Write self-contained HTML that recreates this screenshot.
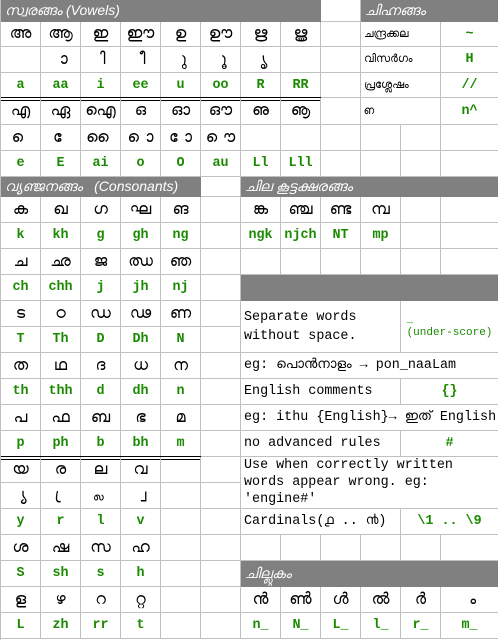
<!DOCTYPE html>
<html><head><meta charset="utf-8"><style>
body{margin:0;background:#fff;width:498px;height:640px;overflow:hidden}
#w{position:relative;width:498px;height:640px;border-left:1px solid #c0c0c0;box-sizing:border-box}
#w div{position:absolute;box-sizing:border-box;border-right:1px solid #c0c0c0;border-bottom:1px solid #c0c0c0;display:flex;align-items:center;justify-content:center;font-family:"Liberation Sans","DejaVu Sans",sans-serif;font-size:16px;color:#000;white-space:nowrap;overflow:hidden}
#w div.g{font-family:"Liberation Mono",monospace;font-size:13.4px;font-weight:bold;color:#1a8a00}
#w div.h{background:#808080;color:#fff;font-style:italic;font-size:14px;justify-content:flex-start;padding-left:4px;border-color:#808080}
#w div.t{font-family:"Liberation Mono",monospace;font-size:13.4px;justify-content:flex-start;padding-left:3px;line-height:19px;white-space:normal}
#w div.s{font-size:11px;justify-content:flex-start;padding-left:3px}
#w div.dl{border:none;border-top:1px solid #000;border-bottom:1px solid #000;height:4px}
</style></head><body><div id="w">
<div class="h" style="left:0;top:0;width:320px;height:22px">സ്വരങ്ങം&nbsp;(Vowels)</div>
<div style="left:320px;top:0;width:40px;height:22px"></div>
<div class="h" style="left:360px;top:0;width:138px;height:22px">ചിഹ്നങ്ങം</div>
<div style="left:0;top:22px;width:40px;height:25px">അ</div><div style="left:40px;top:22px;width:40px;height:25px">ആ</div><div style="left:80px;top:22px;width:40px;height:25px">ഇ</div><div style="left:120px;top:22px;width:40px;height:25px">ഈ</div><div style="left:160px;top:22px;width:40px;height:25px">ഉ</div><div style="left:200px;top:22px;width:40px;height:25px">ഊ</div><div style="left:240px;top:22px;width:40px;height:25px">ഋ</div><div style="left:280px;top:22px;width:40px;height:25px">ൠ</div><div style="left:320px;top:22px;width:40px;height:25px"></div>
<div class="s" style="left:360px;top:22px;width:80px;height:25px">ചന്ദ്രക്കല</div><div class="g" style="left:440px;top:22px;width:58px;height:25px">~</div>
<div style="left:0;top:47px;width:40px;height:26px"></div><div style="left:40px;top:47px;width:40px;height:26px">&nbsp;ാ</div><div style="left:80px;top:47px;width:40px;height:26px">&nbsp;ി</div><div style="left:120px;top:47px;width:40px;height:26px">&nbsp;ീ</div><div style="left:160px;top:47px;width:40px;height:26px">&nbsp;ു</div><div style="left:200px;top:47px;width:40px;height:26px">&nbsp;ൂ</div><div style="left:240px;top:47px;width:40px;height:26px">&nbsp;ൃ</div><div style="left:280px;top:47px;width:40px;height:26px"></div><div style="left:320px;top:47px;width:40px;height:26px"></div>
<div class="s" style="left:360px;top:47px;width:80px;height:26px">വിസർഗം</div><div class="g" style="left:440px;top:47px;width:58px;height:26px">H</div>
<div class="g" style="left:0;top:73px;width:40px;height:25px">a</div><div class="g" style="left:40px;top:73px;width:40px;height:25px">aa</div><div class="g" style="left:80px;top:73px;width:40px;height:25px">i</div><div class="g" style="left:120px;top:73px;width:40px;height:25px">ee</div><div class="g" style="left:160px;top:73px;width:40px;height:25px">u</div><div class="g" style="left:200px;top:73px;width:40px;height:25px">oo</div><div class="g" style="left:240px;top:73px;width:40px;height:25px">R</div><div class="g" style="left:280px;top:73px;width:40px;height:25px">RR</div><div style="left:320px;top:73px;width:40px;height:25px"></div>
<div class="s" style="left:360px;top:73px;width:80px;height:25px">പ്രശ്ലേഷം</div><div class="g" style="left:440px;top:73px;width:58px;height:25px">//</div>
<div class="dl" style="left:0;top:97px;width:320px"></div>
<div style="left:0;top:98px;width:40px;height:27px">എ</div><div style="left:40px;top:98px;width:40px;height:27px">ഏ</div><div style="left:80px;top:98px;width:40px;height:27px">ഐ</div><div style="left:120px;top:98px;width:40px;height:27px">ഒ</div><div style="left:160px;top:98px;width:40px;height:27px">ഓ</div><div style="left:200px;top:98px;width:40px;height:27px">ഔ</div><div style="left:240px;top:98px;width:40px;height:27px">ഌ</div><div style="left:280px;top:98px;width:40px;height:27px">ൡ</div><div style="left:320px;top:98px;width:40px;height:27px"></div>
<div class="s" style="left:360px;top:98px;width:80px;height:27px">ഩ</div><div class="g" style="left:440px;top:98px;width:58px;height:27px">n^</div>
<div style="left:0;top:125px;width:40px;height:26px">&nbsp;െ</div><div style="left:40px;top:125px;width:40px;height:26px">&nbsp;േ</div><div style="left:80px;top:125px;width:40px;height:26px">&nbsp;ൈ</div><div style="left:120px;top:125px;width:40px;height:26px">&nbsp;ൊ</div><div style="left:160px;top:125px;width:40px;height:26px">&nbsp;ോ</div><div style="left:200px;top:125px;width:40px;height:26px">&nbsp;ൌ</div><div style="left:240px;top:125px;width:40px;height:26px"></div><div style="left:280px;top:125px;width:40px;height:26px"></div><div style="left:320px;top:125px;width:40px;height:26px"></div><div style="left:360px;top:125px;width:40px;height:26px"></div><div style="left:400px;top:125px;width:40px;height:26px"></div><div style="left:440px;top:125px;width:58px;height:26px"></div>
<div class="g" style="left:0;top:151px;width:40px;height:26px">e</div><div class="g" style="left:40px;top:151px;width:40px;height:26px">E</div><div class="g" style="left:80px;top:151px;width:40px;height:26px">ai</div><div class="g" style="left:120px;top:151px;width:40px;height:26px">o</div><div class="g" style="left:160px;top:151px;width:40px;height:26px">O</div><div class="g" style="left:200px;top:151px;width:40px;height:26px">au</div><div class="g" style="left:240px;top:151px;width:40px;height:26px">Ll</div><div class="g" style="left:280px;top:151px;width:40px;height:26px">Lll</div><div style="left:320px;top:151px;width:40px;height:26px"></div><div style="left:360px;top:151px;width:40px;height:26px"></div><div style="left:400px;top:151px;width:40px;height:26px"></div><div style="left:440px;top:151px;width:58px;height:26px"></div>
<div class="h" style="left:0;top:177px;width:200px;height:20px">വ്യഞ്ജനങ്ങം&nbsp;&nbsp;&nbsp;(Consonants)</div>
<div style="left:200px;top:177px;width:40px;height:20px"></div>
<div class="h" style="left:240px;top:177px;width:258px;height:20px">ചില&nbsp;കൂട്ടക്ഷരങ്ങം</div>
<div style="left:0;top:197px;width:40px;height:26px">ക</div><div style="left:40px;top:197px;width:40px;height:26px">ഖ</div><div style="left:80px;top:197px;width:40px;height:26px">ഗ</div><div style="left:120px;top:197px;width:40px;height:26px">ഘ</div><div style="left:160px;top:197px;width:40px;height:26px">ങ</div><div style="left:200px;top:197px;width:40px;height:26px"></div>
<div class="g" style="left:0;top:223px;width:40px;height:26px">k</div><div class="g" style="left:40px;top:223px;width:40px;height:26px">kh</div><div class="g" style="left:80px;top:223px;width:40px;height:26px">g</div><div class="g" style="left:120px;top:223px;width:40px;height:26px">gh</div><div class="g" style="left:160px;top:223px;width:40px;height:26px">ng</div><div style="left:200px;top:223px;width:40px;height:26px"></div>
<div style="left:0;top:249px;width:40px;height:26px">ച</div><div style="left:40px;top:249px;width:40px;height:26px">ഛ</div><div style="left:80px;top:249px;width:40px;height:26px">ജ</div><div style="left:120px;top:249px;width:40px;height:26px">ഝ</div><div style="left:160px;top:249px;width:40px;height:26px">ഞ</div><div style="left:200px;top:249px;width:40px;height:26px"></div>
<div class="g" style="left:0;top:275px;width:40px;height:26px">ch</div><div class="g" style="left:40px;top:275px;width:40px;height:26px">chh</div><div class="g" style="left:80px;top:275px;width:40px;height:26px">j</div><div class="g" style="left:120px;top:275px;width:40px;height:26px">jh</div><div class="g" style="left:160px;top:275px;width:40px;height:26px">nj</div><div style="left:200px;top:275px;width:40px;height:26px"></div>
<div style="left:0;top:301px;width:40px;height:26px">ട</div><div style="left:40px;top:301px;width:40px;height:26px">ഠ</div><div style="left:80px;top:301px;width:40px;height:26px">ഡ</div><div style="left:120px;top:301px;width:40px;height:26px">ഢ</div><div style="left:160px;top:301px;width:40px;height:26px">ണ</div><div style="left:200px;top:301px;width:40px;height:26px"></div>
<div class="g" style="left:0;top:327px;width:40px;height:26px">T</div><div class="g" style="left:40px;top:327px;width:40px;height:26px">Th</div><div class="g" style="left:80px;top:327px;width:40px;height:26px">D</div><div class="g" style="left:120px;top:327px;width:40px;height:26px">Dh</div><div class="g" style="left:160px;top:327px;width:40px;height:26px">N</div><div style="left:200px;top:327px;width:40px;height:26px"></div>
<div style="left:0;top:353px;width:40px;height:26px">ത</div><div style="left:40px;top:353px;width:40px;height:26px">ഥ</div><div style="left:80px;top:353px;width:40px;height:26px">ദ</div><div style="left:120px;top:353px;width:40px;height:26px">ധ</div><div style="left:160px;top:353px;width:40px;height:26px">ന</div><div style="left:200px;top:353px;width:40px;height:26px"></div>
<div class="g" style="left:0;top:379px;width:40px;height:26px">th</div><div class="g" style="left:40px;top:379px;width:40px;height:26px">thh</div><div class="g" style="left:80px;top:379px;width:40px;height:26px">d</div><div class="g" style="left:120px;top:379px;width:40px;height:26px">dh</div><div class="g" style="left:160px;top:379px;width:40px;height:26px">n</div><div style="left:200px;top:379px;width:40px;height:26px"></div>
<div style="left:0;top:405px;width:40px;height:26px">പ</div><div style="left:40px;top:405px;width:40px;height:26px">ഫ</div><div style="left:80px;top:405px;width:40px;height:26px">ബ</div><div style="left:120px;top:405px;width:40px;height:26px">ഭ</div><div style="left:160px;top:405px;width:40px;height:26px">മ</div><div style="left:200px;top:405px;width:40px;height:26px"></div>
<div class="g" style="left:0;top:431px;width:40px;height:26px">p</div><div class="g" style="left:40px;top:431px;width:40px;height:26px">ph</div><div class="g" style="left:80px;top:431px;width:40px;height:26px">b</div><div class="g" style="left:120px;top:431px;width:40px;height:26px">bh</div><div class="g" style="left:160px;top:431px;width:40px;height:26px">m</div><div style="left:200px;top:431px;width:40px;height:26px"></div>
<div class="dl" style="left:0;top:456px;width:200px"></div>
<div style="left:0;top:457px;width:40px;height:26px">യ</div><div style="left:40px;top:457px;width:40px;height:26px">ര</div><div style="left:80px;top:457px;width:40px;height:26px">ല</div><div style="left:120px;top:457px;width:40px;height:26px">വ</div><div style="left:160px;top:457px;width:40px;height:26px"></div><div style="left:200px;top:457px;width:40px;height:26px"></div>
<div style="left:0;top:483px;width:40px;height:26px">&nbsp;്യ</div><div style="left:40px;top:483px;width:40px;height:26px">&nbsp;്ര</div><div style="left:80px;top:483px;width:40px;height:26px">&nbsp;്ല</div><div style="left:120px;top:483px;width:40px;height:26px">&nbsp;്വ</div><div style="left:160px;top:483px;width:40px;height:26px"></div><div style="left:200px;top:483px;width:40px;height:26px"></div>
<div class="g" style="left:0;top:509px;width:40px;height:26px">y</div><div class="g" style="left:40px;top:509px;width:40px;height:26px">r</div><div class="g" style="left:80px;top:509px;width:40px;height:26px">l</div><div class="g" style="left:120px;top:509px;width:40px;height:26px">v</div><div style="left:160px;top:509px;width:40px;height:26px"></div><div style="left:200px;top:509px;width:40px;height:26px"></div>
<div style="left:0;top:535px;width:40px;height:26px">ശ</div><div style="left:40px;top:535px;width:40px;height:26px">ഷ</div><div style="left:80px;top:535px;width:40px;height:26px">സ</div><div style="left:120px;top:535px;width:40px;height:26px">ഹ</div><div style="left:160px;top:535px;width:40px;height:26px"></div><div style="left:200px;top:535px;width:40px;height:26px"></div>
<div class="g" style="left:0;top:561px;width:40px;height:26px">S</div><div class="g" style="left:40px;top:561px;width:40px;height:26px">sh</div><div class="g" style="left:80px;top:561px;width:40px;height:26px">s</div><div class="g" style="left:120px;top:561px;width:40px;height:26px">h</div><div style="left:160px;top:561px;width:40px;height:26px"></div><div style="left:200px;top:561px;width:40px;height:26px"></div>
<div style="left:0;top:587px;width:40px;height:26px">ള</div><div style="left:40px;top:587px;width:40px;height:26px">ഴ</div><div style="left:80px;top:587px;width:40px;height:26px">റ</div><div style="left:120px;top:587px;width:40px;height:26px">റ്റ</div><div style="left:160px;top:587px;width:40px;height:26px"></div><div style="left:200px;top:587px;width:40px;height:26px"></div>
<div class="g" style="left:0;top:613px;width:40px;height:26px">L</div><div class="g" style="left:40px;top:613px;width:40px;height:26px">zh</div><div class="g" style="left:80px;top:613px;width:40px;height:26px">rr</div><div class="g" style="left:120px;top:613px;width:40px;height:26px">t</div><div style="left:160px;top:613px;width:40px;height:26px"></div><div style="left:200px;top:613px;width:40px;height:26px"></div>
<div style="left:240px;top:197px;width:40px;height:26px">ങ്ക</div><div style="left:280px;top:197px;width:40px;height:26px">ഞ്ച</div><div style="left:320px;top:197px;width:40px;height:26px">ണ്ട</div><div style="left:360px;top:197px;width:40px;height:26px">മ്പ</div><div style="left:400px;top:197px;width:40px;height:26px"></div><div style="left:440px;top:197px;width:58px;height:26px"></div>
<div class="g" style="left:240px;top:223px;width:40px;height:26px">ngk</div><div class="g" style="left:280px;top:223px;width:40px;height:26px">njch</div><div class="g" style="left:320px;top:223px;width:40px;height:26px">NT</div><div class="g" style="left:360px;top:223px;width:40px;height:26px">mp</div><div style="left:400px;top:223px;width:40px;height:26px"></div><div style="left:440px;top:223px;width:58px;height:26px"></div>
<div style="left:240px;top:249px;width:40px;height:26px"></div><div style="left:280px;top:249px;width:40px;height:26px"></div><div style="left:320px;top:249px;width:40px;height:26px"></div><div style="left:360px;top:249px;width:40px;height:26px"></div><div style="left:400px;top:249px;width:40px;height:26px"></div><div style="left:440px;top:249px;width:58px;height:26px"></div>
<div class="h" style="left:240px;top:275px;width:258px;height:26px"></div>
<div class="t" style="left:240px;top:301px;width:160px;height:52px">Separate words without space.</div>
<div class="g" style="left:400px;top:301px;width:98px;height:52px;flex-direction:column;font-size:11px;line-height:13px;font-weight:normal">_<br>(under-score)</div>
<div class="t" style="left:240px;top:353px;width:258px;height:26px">eg: പൊൻനാളം → pon_naaLam</div>
<div class="t" style="left:240px;top:379px;width:160px;height:26px">English comments</div><div class="g" style="left:400px;top:379px;width:98px;height:26px">{}</div>
<div class="t" style="left:240px;top:405px;width:258px;height:26px">eg: ithu {English}→ ഇത് English</div>
<div class="t" style="left:240px;top:431px;width:160px;height:26px">no advanced rules</div><div class="g" style="left:400px;top:431px;width:98px;height:26px">#</div>
<div class="t" style="left:240px;top:457px;width:258px;height:52px;align-items:flex-start;line-height:17px">Use when correctly written words appear wrong. eg: 'engine#'</div>
<div class="t" style="left:240px;top:509px;width:160px;height:26px">Cardinals(൧ .. ൯)</div><div class="g" style="left:400px;top:509px;width:98px;height:26px">\1 .. \9</div>
<div style="left:240px;top:535px;width:40px;height:26px"></div><div style="left:280px;top:535px;width:40px;height:26px"></div><div style="left:320px;top:535px;width:40px;height:26px"></div><div style="left:360px;top:535px;width:40px;height:26px"></div><div style="left:400px;top:535px;width:40px;height:26px"></div><div style="left:440px;top:535px;width:58px;height:26px"></div>
<div class="h" style="left:240px;top:561px;width:258px;height:26px">ചില്ലുകം</div>
<div style="left:240px;top:587px;width:40px;height:26px">ൻ</div><div style="left:280px;top:587px;width:40px;height:26px">ൺ</div><div style="left:320px;top:587px;width:40px;height:26px">ൾ</div><div style="left:360px;top:587px;width:40px;height:26px">ൽ</div><div style="left:400px;top:587px;width:40px;height:26px">ർ</div><div style="left:440px;top:587px;width:58px;height:26px">&nbsp;ം</div>
<div class="g" style="left:240px;top:613px;width:40px;height:26px">n_</div><div class="g" style="left:280px;top:613px;width:40px;height:26px">N_</div><div class="g" style="left:320px;top:613px;width:40px;height:26px">L_</div><div class="g" style="left:360px;top:613px;width:40px;height:26px">l_</div><div class="g" style="left:400px;top:613px;width:40px;height:26px">r_</div><div class="g" style="left:440px;top:613px;width:58px;height:26px">m_</div>
</div></body></html>
